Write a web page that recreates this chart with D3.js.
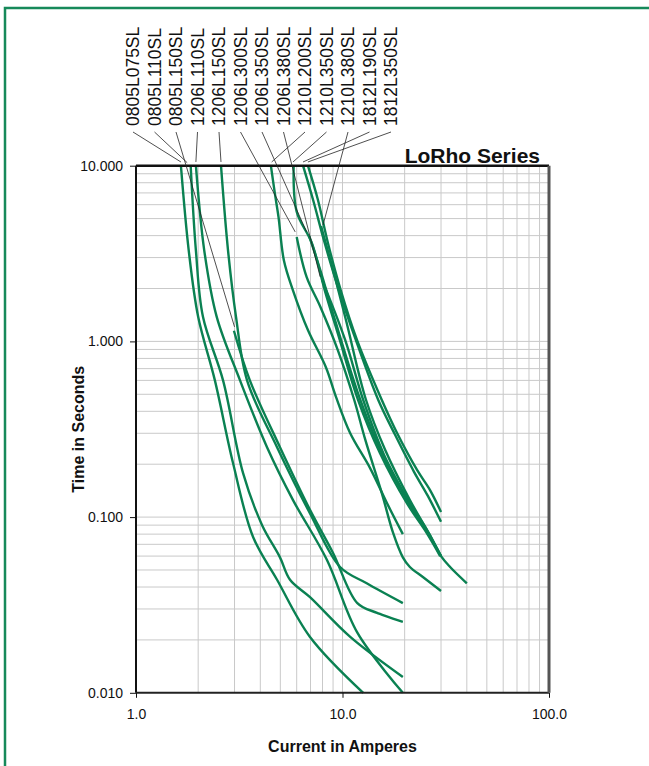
<!DOCTYPE html>
<html>
<head>
    <meta charset="utf-8">
    <title>LoRho Series</title>
    <script src="https://d3js.org/d3.v7.min.js"></script>
    <style>
        body { margin: 0; background: #fff; }
        svg text { font-family: "Liberation Sans", Arial, Helvetica, sans-serif; fill: #111; }
        .grid line { stroke: #c9c9c9; stroke-width: 1; }
        .curve { fill: none; stroke: #0a8152; stroke-width: 2.4; stroke-linejoin: round; }
        .leader { stroke: #222; stroke-width: 0.8; }
    </style>
</head>
<body>
<svg width="649" height="766"></svg>
<script>

    // part numbers, left to right as printed above the chart
    var parts = ["0805L075SL", "0805L110SL", "0805L150SL", "1206L110SL", "1206L150SL",
                 "1206L300SL", "1206L350SL", "1206L380SL", "1210L200SL", "1210L350SL",
                 "1210L380SL", "1812L190SL", "1812L350SL"];

    // trip curves, [current in A, time in s]
    var c0805L075 = [[1.65,10],[1.8,3.3],[2.0,1.38],[2.41,0.60],[2.95,0.203],[3.69,0.077],[4.82,0.044],[6.96,0.0208],[12.6,0.01]];
    var c0805L110 = [[1.84,10],[1.95,3.3],[2.11,1.38],[2.64,0.60],[3.30,0.178],[4.08,0.090],[4.98,0.059],[5.57,0.044],[6.96,0.035],[10.9,0.0208],[19.6,0.0123]];
    var c0805L150 = [[2.98,1.15],[3.56,0.60],[4.98,0.25],[6.96,0.11],[9.0,0.0625],[11.8,0.0324],[14.7,0.0285],[19.6,0.0253]];
    var c1206L110 = [[1.95,10],[2.14,3.3],[2.46,1.38],[3.19,0.60],[4.31,0.25],[5.76,0.125],[8.41,0.057],[11.8,0.022],[19.6,0.01]];
    var c1206L150 = [[2.58,10],[2.79,3.3],[3.05,1.38],[3.45,0.60],[4.82,0.25],[6.96,0.105],[9.73,0.052],[13.1,0.042],[19.6,0.0324]];
    var c1206L300 = [[6.0,3.93],[6.7,2.33],[7.8,1.58],[9.5,0.89],[11.4,0.464],[12.9,0.275],[15.5,0.137],[17.6,0.081],[19.6,0.059],[21.2,0.052],[24.5,0.0456],[30,0.038]];
    var c1206L350 = [[6.9,3.98],[7.8,2.55],[9.2,1.32],[12.2,0.464],[15.5,0.232],[20.8,0.122],[25.9,0.081],[30,0.060]];
    var c1206L380 = [[7.96,2.24],[10.3,1.02],[12.6,0.464],[15.9,0.226],[20.8,0.125],[25.7,0.084],[30,0.060]];
    var c1210L200 = [[4.5,10],[4.7,7.0],[4.9,5.1],[5.2,2.9],[5.75,1.96],[6.8,1.16],[8.3,0.715],[9.3,0.483],[10.9,0.30],[13.6,0.19],[16.6,0.117],[19.6,0.080]];
    var c1210L350 = [[5.8,10],[6.0,5.47],[7.1,3.63],[8.2,1.96],[9.7,1.02],[11.9,0.464],[15.2,0.231],[20.5,0.12],[25.6,0.081],[29.7,0.060]];
    var c1210L380 = [[7.87,4.54],[9.0,2.55],[10.4,1.32],[13,0.464],[16.1,0.241],[21.2,0.125],[26.5,0.079],[30,0.060],[33.2,0.052],[40,0.042]];
    var c1812L190 = [[6.44,10],[7.2,6.4],[8.2,3.63],[9.6,1.96],[11.6,1.02],[14.9,0.464],[18,0.293],[22.2,0.181],[25.9,0.132],[30,0.094]];
    var c1812L350 = [[6.8,10],[7.6,6.4],[8.5,3.63],[9.8,1.96],[11.75,1.02],[15.5,0.464],[18.4,0.30],[23,0.185],[26.5,0.143],[30,0.107]];

    var curves = [c0805L075, c0805L110, c0805L150, c1206L110, c1206L150, c1206L300, c1206L350,
                  c1206L380, c1210L200, c1210L350, c1210L380, c1812L190, c1812L350];

    // where each part's leader line points, [A, s]
    var leaderTargets = [[1.65,10.5],[1.77,10.4],[3.0,1.21],[1.95,10.5],[2.58,10.5],[5.9,4.2],[6.7,4.2],
                         [7.8,2.33],[4.54,10.5],[5.76,10.5],[8.05,4.6],[6.44,10.5],[6.8,10.5]];

    var xTicks = [1, 10, 100],
        yTicks = [0.01, 0.1, 1, 10],
        minorSteps = [2, 3, 4, 5, 6, 7, 8, 9];

    var svg = d3.select("svg");

    var plotLeft = 136, plotRight = 549, plotTop = 165.7, plotBottom = 692.8;

    var x = d3.scaleLog().domain([1, 100]).range([plotLeft, plotRight]),
        y = d3.scaleLog().domain([0.01, 10]).range([plotBottom, plotTop]);

    var labelX = d3.scalePoint().domain(parts).range([133, 391]);

    // outer green frame
    svg.append("rect")
       .attr("x", 5).attr("y", 8)
       .attr("width", 700).attr("height", 800)
       .attr("fill", "none")
       .attr("stroke", "#16895a")
       .attr("stroke-width", 2.5);

    // log grid
    var xGrid = [], yGrid = [];
    [1, 10].forEach(function(d) { minorSteps.forEach(function(m) { xGrid.push(d * m); }); });
    xGrid.push(10);
    [0.01, 0.1, 1].forEach(function(d) { minorSteps.forEach(function(m) { yGrid.push(d * m); }); });
    yGrid.push(0.1, 1);

    var grid = svg.append("g").attr("class", "grid");
    grid.selectAll(".vx").data(xGrid).enter().append("line")
        .attr("x1", function(d) { return x(d); })
        .attr("x2", function(d) { return x(d); })
        .attr("y1", plotTop).attr("y2", plotBottom);
    grid.selectAll(".hy").data(yGrid).enter().append("line")
        .attr("y1", function(d) { return y(d); })
        .attr("y2", function(d) { return y(d); })
        .attr("x1", plotLeft).attr("x2", plotRight);

    // curves
    var line = d3.line()
        .x(function(d) { return x(d[0]); })
        .y(function(d) { return y(d[1]); })
        .curve(d3.curveCatmullRom.alpha(0.5));

    svg.append("g").selectAll("path")
       .data(curves)
       .enter().append("path")
       .attr("class", "curve")
       .attr("d", line);

    // plot frame
    svg.append("line").attr("x1", plotLeft).attr("x2", plotRight).attr("y1", plotTop).attr("y2", plotTop)
       .attr("stroke", "#111").attr("stroke-width", 2.6);
    svg.append("line").attr("x1", plotLeft).attr("x2", plotLeft).attr("y1", plotTop).attr("y2", plotBottom)
       .attr("stroke", "#111").attr("stroke-width", 2);
    svg.append("line").attr("x1", plotLeft).attr("x2", plotRight).attr("y1", plotBottom).attr("y2", plotBottom)
       .attr("stroke", "#222").attr("stroke-width", 2);
    svg.append("line").attr("x1", plotRight).attr("x2", plotRight).attr("y1", plotTop).attr("y2", plotBottom)
       .attr("stroke", "#555").attr("stroke-width", 3);

    // axes
    var yAxis = svg.append("g")
       .attr("transform", "translate(" + plotLeft + ",0)")
       .call(d3.axisLeft(y).tickValues(yTicks).tickFormat(d3.format(".3f")).tickSize(6).tickPadding(7));
    var xAxis = svg.append("g")
       .attr("transform", "translate(0," + plotBottom + ")")
       .call(d3.axisBottom(x).tickValues(xTicks).tickFormat(d3.format(".1f")).tickSize(5).tickPadding(11));
    [yAxis, xAxis].forEach(function(a) {
        a.select(".domain").remove();
        a.selectAll("text").attr("font-size", "14px").attr("fill", "#111");
        a.selectAll("line").attr("stroke", "#111");
    });

    // part labels and leaders
    svg.append("g").selectAll("text")
       .data(parts)
       .enter().append("text")
       .attr("transform", function(d) { return "translate(" + labelX(d) + ",126) rotate(-90)"; })
       .attr("dy", "0.36em")
       .attr("font-size", "17.5px")
       .text(function(d) { return d; });

    svg.append("g").selectAll("line")
       .data(parts)
       .enter().append("line")
       .attr("class", "leader")
       .attr("x1", function(d) { return labelX(d); })
       .attr("y1", 132)
       .attr("x2", function(d, i) { return x(leaderTargets[i][0]); })
       .attr("y2", function(d, i) { return y(leaderTargets[i][1]); });

    // titles
    svg.append("text")
       .attr("x", 540).attr("y", 162.5)
       .attr("text-anchor", "end")
       .attr("font-size", "21px")
       .attr("font-weight", "bold")
       .text("LoRho Series");

    svg.append("text")
       .attr("x", (plotLeft + plotRight) / 2).attr("y", 752)
       .attr("text-anchor", "middle")
       .attr("font-size", "16px")
       .attr("font-weight", "bold")
       .text("Current in Amperes");

    svg.append("text")
       .attr("transform", "translate(84," + (plotTop + plotBottom) / 2 + ") rotate(-90)")
       .attr("text-anchor", "middle")
       .attr("font-size", "16px")
       .attr("font-weight", "bold")
       .text("Time in Seconds");
</script>
</body>
</html>
